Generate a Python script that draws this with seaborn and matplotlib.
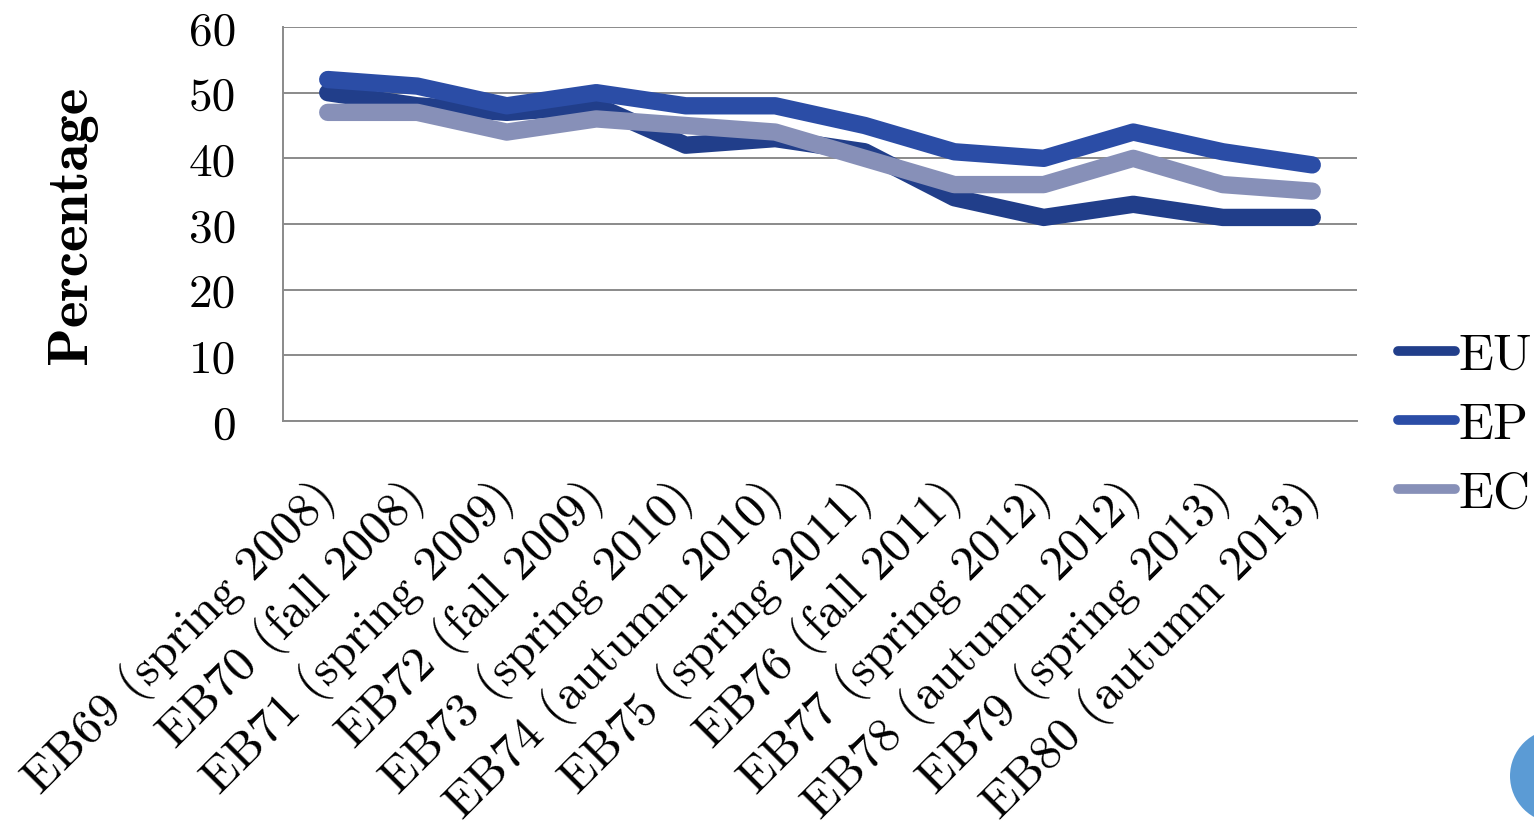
import matplotlib
matplotlib.use("Agg")
import matplotlib.pyplot as plt
from matplotlib.patches import Circle
import seaborn as sns
import pandas as pd

# Survey waves (Eurobarometer) and trust percentages per institution
waves = [
    "EB69 (spring 2008)", "EB70 (fall 2008)", "EB71 (spring 2009)",
    "EB72 (fall 2009)", "EB73 (spring 2010)", "EB74 (autumn 2010)",
    "EB75 (spring 2011)", "EB76 (fall 2011)", "EB77 (spring 2012)",
    "EB78 (autumn 2012)", "EB79 (spring 2013)", "EB80 (autumn 2013)",
]
eu = [50, 48, 47, 48, 42, 43, 41, 34, 31, 33, 31, 31]
ep = [52, 51, 48, 50, 48, 48, 45, 41, 40, 44, 41, 39]
ec = [47, 47, 44, 46, 45, 44, 40, 36, 36, 40, 36, 35]
series_names = ["EU", "EP", "EC"]
y_ticks = [0, 10, 20, 30, 40, 50, 60]

colors = {"EU": "#213E8A", "EP": "#2B4DA6", "EC": "#8790B8"}

frames = []
for name, vals in zip(series_names, [eu, ep, ec]):
    frames.append(pd.DataFrame({"wave": waves, "value": vals, "series": name}))
df = pd.concat(frames, ignore_index=True)

sns.set_theme(style="white")
plt.rcParams["font.family"] = ["cmr10", "DejaVu Serif"]
plt.rcParams["axes.formatter.use_mathtext"] = True
plt.rcParams["text.color"] = "black"
plt.rcParams["axes.labelcolor"] = "black"
plt.rcParams["xtick.color"] = "black"
plt.rcParams["ytick.color"] = "black"

W, H = 1534, 828
fig = plt.figure(figsize=(W / 100, H / 100), dpi=100)
ax = fig.add_axes([283 / W, 1 - 422 / H, (1357 - 283) / W, (422 - 28) / H])

sns.lineplot(
    data=df, x="wave", y="value", hue="series", palette=colors,
    hue_order=series_names, sort=False, linewidth=12.5, ax=ax,
    solid_capstyle="round", solid_joinstyle="round",
)

ax.set_xlim(-0.5, len(waves) - 0.5)
ax.set_ylim(0, 60)
ax.set_yticks(y_ticks)
ax.set_yticklabels([str(t) for t in y_ticks], fontsize=34)
ax.tick_params(axis="y", length=0, pad=34)
ax.tick_params(axis="x", length=0, pad=49)
ax.set_xticks(range(len(waves)))
ax.set_xticklabels(waves, fontsize=35.5, rotation=45, ha="right",
                   rotation_mode="anchor", va="center")

ax.grid(axis="y", color="#8A8A8A", linewidth=1.4)
ax.grid(axis="x", visible=False)
for side in ["top", "right"]:
    ax.spines[side].set_visible(False)
for side in ["left", "bottom"]:
    ax.spines[side].set_color("#8A8A8A")
    ax.spines[side].set_linewidth(1.4)

ax.set_xlabel("")
ax.set_ylabel("Percentage", fontsize=41, family=["cmb10", "DejaVu Serif"],
              color="black")
ax.yaxis.set_label_coords(-0.196, 0.5)
ax.yaxis.label.set_va("center")

handles, labels = ax.get_legend_handles_labels()
leg = ax.legend(
    handles, labels, loc="center left", bbox_to_anchor=(1398 / W, 1 - 426 / H),
    bbox_transform=fig.transFigure, frameon=False, fontsize=37,
    handlelength=1.1, handletextpad=0.08, labelspacing=0.45, borderpad=0,
    borderaxespad=0, labelcolor="black",
)
for line in leg.get_lines():
    line.set_linewidth(7)
    line.set_solid_capstyle("round")

# Decorative circle at the lower-right corner
fig.patches.append(Circle((1557, H - 777), 47, transform=None,
                          facecolor="#5B9BD5", edgecolor="none"))

fig.savefig("out.png", dpi=100)
